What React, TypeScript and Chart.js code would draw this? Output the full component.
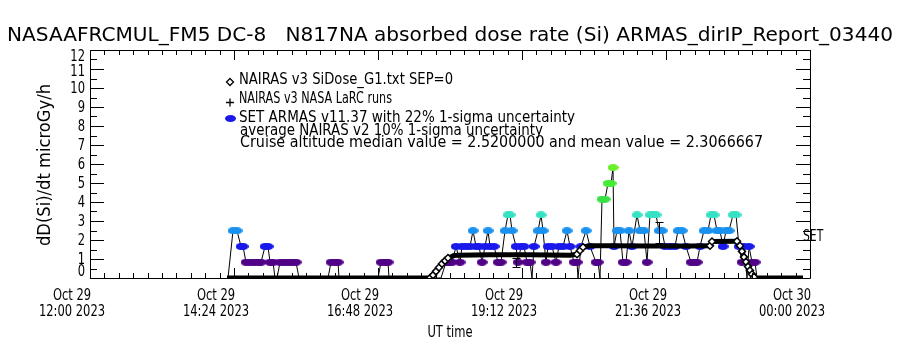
import { useEffect, useRef } from 'react';
import { Chart, registerables } from 'chart.js';
Chart.register(...registerables);

const titleText = 'NASAAFRCMUL_FM5 DC-8   N817NA absorbed dose rate (Si) ARMAS_dirIP_Report_03440';
const yAxisTitle = 'dD(Si)/dt microGy/h';
const xAxisTitle = 'UT time';
const xTickMinutes = [0, 144, 288, 432, 576, 720];
const xTickLabels = [
  ['Oct 29', '12:00 2023'],
  ['Oct 29', '14:24 2023'],
  ['Oct 29', '16:48 2023'],
  ['Oct 29', '19:12 2023'],
  ['Oct 29', '21:36 2023'],
  ['Oct 30', '00:00 2023'],
];
const yTickValues = [0, 1, 2, 3, 4, 5, 6, 7, 8, 9, 10, 11, 12];
const legendLines = [
  'NAIRAS v3 SiDose_G1.txt SEP=0',
  'NAIRAS v3 NASA LaRC runs',
  'SET ARMAS v11.37 with 22% 1-sigma uncertainty',
  'average NAIRAS v2 10% 1-sigma uncertainty',
];
const statsText = 'Cruise altitude median value = 2.5200000 and mean value = 2.3066667';
const setLabel = 'SET';

// minutes after 12:00 UT, Oct 29 2023
const nairasMinutes = [137, 160, 190, 220, 250, 280, 310, 340, 343, 346, 349, 352, 355, 358, 361, 364, 368, 400, 440, 480, 487, 490, 493, 500, 520, 560, 600, 620, 622, 647, 650, 652, 654, 656, 658, 660, 662, 664, 666, 690, 713];
const nairasDose = [0, 0, 0, 0, 0, 0, 0, 0, 0.15, 0.35, 0.55, 0.75, 0.9, 1.05, 1.12, 1.18, 1.2, 1.22, 1.22, 1.2, 1.25, 1.45, 1.62, 1.7, 1.7, 1.68, 1.68, 1.7, 1.92, 1.93, 1.7, 1.4, 1.1, 0.85, 0.6, 0.4, 0.2, 0.05, 0, 0, 0];

const armasMinutes = [138, 143, 147, 151, 153, 156, 160, 164, 168, 171, 175, 178, 180, 183, 185, 187, 190, 194, 198, 202, 206, 209, 238, 241, 245, 248, 249, 288, 291, 295, 298, 299, 351,
  356, 359, 362, 366, 370, 372, 376, 380, 383, 386, 389, 392, 395, 398, 400, 404, 408, 411, 415, 418, 420, 422, 426, 428, 431, 434, 437, 440, 442, 444, 448, 451, 453, 456, 458, 462, 466, 469, 473, 477, 480, 484, 487, 488, 491, 496, 500, 506, 508, 510,
  512, 515, 518, 521, 523, 524, 527, 530, 533, 536, 539, 542, 547, 550, 554, 557, 560, 563, 566, 569, 572, 575, 580, 585, 588, 592, 596, 601, 604, 607, 610, 614, 618, 621, 624, 627, 630, 633, 636, 639, 643, 646, 649, 652, 654, 657, 659, 662, 665, 667];
const armasDose = [0, 2.49, 2.49, 1.66, 1.66, 0.83, 0.83, 0.83, 0.83, 0.83, 1.66, 1.66, 0.83, 0.83, 0, 0, 0.83, 0.83, 0.83, 0.83, 0.83, 0, 0, 0.83, 0.83, 0.83, 0, 0, 0.83, 0.83, 0.83, 0, 0,
  0.83, 0.83, 0.83, 1.66, 0.83, 1.66, 1.66, 1.66, 2.49, 1.66, 1.66, 0.83, 1.66, 2.49, 1.66, 1.66, 0.83, 0.83, 2.49, 3.32, 3.32, 2.49, 1.66, 0.83, 1.66, 1.66, 0.83, 0.83, 0, 1.66, 2.49, 3.32, 2.49, 0.83, 1.66, 1.66, 0.83, 1.66, 1.66, 2.49, 1.66, 0.83, 0.83, 0, 1.66, 2.49, 1.66, 0.83, 0.83, 0,
  4.15, 4.15, 4.98, 4.98, 5.81, 1.66, 2.49, 2.49, 0.83, 0.83, 2.49, 1.66, 3.32, 2.49, 2.49, 0.83, 3.32, 3.32, 3.32, 2.49, 2.49, 1.66, 1.66, 1.66, 2.49, 2.49, 1.66, 0.83, 0.83, 0.83, 1.66, 2.49, 2.49, 3.32, 3.32, 2.49, 2.49, 1.66, 2.49, 2.49, 3.32, 3.32, 1.66, 0.83, 1.66, 0, 1.66, 0.83, 0.83, 0];

const errMinutes = [426, 569];
const errLow = [0.58, 1.84];
const errHigh = [1.05, 2.95];

const FONT = '"Liberation Sans Narrow", "DejaVu Sans Condensed", "Liberation Sans", sans-serif';

function levelColor(v: number): string {
  if (v < 1.2) return 'rgb(80,0,135)';
  if (v < 2.0) return 'rgb(25,25,235)';
  if (v < 2.9) return 'rgb(25,145,240)';
  if (v < 3.7) return 'rgb(55,225,195)';
  if (v < 4.5) return 'rgb(55,225,70)';
  if (v < 5.4) return 'rgb(70,235,55)';
  return 'rgb(105,240,40)';
}

const markerCache: Record<string, HTMLCanvasElement> = {};
function marker(color: string): HTMLCanvasElement {
  if (markerCache[color]) return markerCache[color];
  const c = document.createElement('canvas');
  c.width = 11;
  c.height = 7;
  const g = c.getContext('2d')!;
  g.fillStyle = color;
  g.beginPath();
  g.ellipse(5.5, 3.5, 5.5, 3.5, 0, 0, Math.PI * 2);
  g.fill();
  markerCache[color] = c;
  return c;
}

function txt(ctx: CanvasRenderingContext2D, s: string, x: number, y: number, size: number, o: { width?: number; sx?: number; align?: string; rot?: number } = {}) {
  ctx.save();
  ctx.font = `${size}px ${FONT}`;
  ctx.fillStyle = '#000';
  ctx.textBaseline = 'middle';
  ctx.textAlign = 'left';
  ctx.translate(x, y);
  if (o.rot) ctx.rotate(o.rot);
  const w = ctx.measureText(s).width;
  const sx = o.width ? o.width / w : o.sx ?? 0.75;
  ctx.scale(sx, 1);
  let dx = 0;
  if (o.align === 'center') dx = -w / 2;
  else if (o.align === 'right') dx = -w;
  ctx.fillText(s, dx, 0);
  ctx.restore();
}

const decorPlugin = {
  id: 'decor',
  afterDatasetsDraw(chart: any) {
    const ctx: CanvasRenderingContext2D = chart.ctx;
    const xs = chart.scales.x;
    const ys = chart.scales.y;
    const a = chart.chartArea;
    ctx.save();
    ctx.strokeStyle = '#000';
    ctx.lineWidth = 1;
    // error bars
    for (let i = 0; i < errMinutes.length; i++) {
      const x = Math.round(xs.getPixelForValue(errMinutes[i])) + 0.5;
      const y1 = Math.round(ys.getPixelForValue(errLow[i])) + 0.5;
      const y2 = Math.round(ys.getPixelForValue(errHigh[i])) + 0.5;
      ctx.beginPath();
      ctx.moveTo(x, y1); ctx.lineTo(x, y2);
      ctx.moveTo(x - 4, y1); ctx.lineTo(x + 4, y1);
      ctx.moveTo(x - 4, y2); ctx.lineTo(x + 4, y2);
      ctx.stroke();
    }
    // frame
    ctx.beginPath();
    ctx.rect(Math.round(a.left) + 0.5, Math.round(a.top) + 0.5, Math.round(a.right - a.left), Math.round(a.bottom - a.top));
    ctx.stroke();
    // y ticks
    ctx.beginPath();
    for (let v = 0; v <= 12.001; v += 0.5) {
      const y = Math.round(ys.getPixelForValue(v)) + 0.5;
      const len = Math.abs(v - Math.round(v)) < 0.01 ? 14 : 7;
      ctx.moveTo(a.left, y); ctx.lineTo(a.left + len, y);
      ctx.moveTo(a.right, y); ctx.lineTo(a.right - len, y);
    }
    // x ticks
    for (let k = 0; k <= 50; k++) {
      const m = k * 14.4;
      const x = Math.round(xs.getPixelForValue(m)) + 0.5;
      const len = k % 10 === 0 ? 10 : 5;
      ctx.moveTo(x, a.bottom); ctx.lineTo(x, a.bottom - len);
      ctx.moveTo(x, a.top); ctx.lineTo(x, a.top + len);
    }
    ctx.stroke();
    ctx.restore();

    // tick labels from library scales
    ys.ticks.forEach((t: any, i: number) => {
      const y = ys.getPixelForTick(i);
      const v = Number(t.value);
      const off = v === 0 ? -6 : v === 12 ? 7 : v === 11 ? 3 : 1;
      txt(ctx, String(t.label), a.left - 5, y + off, 16, { sx: 0.8, align: 'right' });
    });
    xs.ticks.forEach((t: any, i: number) => {
      const x = xs.getPixelForTick(i);
      const lab = t.label as string[];
      txt(ctx, lab[0], x - 18, a.bottom + 18, 16, { sx: 0.8, align: 'center' });
      txt(ctx, lab[1], x - 18, a.bottom + 34, 16, { sx: 0.8, align: 'center' });
    });
    txt(ctx, xAxisTitle, 450, 333, 16, { sx: 0.8, align: 'center' });
    txt(ctx, yAxisTitle, 46, 165, 17, { width: 162, align: 'center', rot: -Math.PI / 2 });
    txt(ctx, titleText, 7, 36, 19, { width: 886 });

    // legend
    ctx.save();
    ctx.strokeStyle = '#000';
    ctx.lineWidth = 1.3;
    ctx.beginPath();
    ctx.moveTo(230, 78.5); ctx.lineTo(233.5, 82); ctx.lineTo(230, 85.5); ctx.lineTo(226.5, 82); ctx.closePath();
    ctx.stroke();
    ctx.beginPath();
    ctx.moveTo(226, 102.5); ctx.lineTo(234, 102.5);
    ctx.moveTo(230, 98.5); ctx.lineTo(230, 106.5);
    ctx.stroke();
    ctx.drawImage(marker(levelColor(1.7)), 225, 115);
    ctx.restore();
    txt(ctx, legendLines[0], 239, 80, 15, { width: 214 });
    txt(ctx, legendLines[1], 239, 99, 15, { width: 153 });
    txt(ctx, legendLines[2], 239, 118, 15, { width: 336 });
    txt(ctx, legendLines[3], 240, 131, 15, { width: 303 });
    txt(ctx, statsText, 240, 143, 15, { width: 523 });
    txt(ctx, setLabel, 803, 237, 15, { sx: 0.8 });
  },
};

function isRamp(i: number): boolean {
  const prev = i > 0 ? Math.abs(nairasDose[i] - nairasDose[i - 1]) / (nairasMinutes[i] - nairasMinutes[i - 1]) : 0;
  const next = i < nairasDose.length - 1 ? Math.abs(nairasDose[i + 1] - nairasDose[i]) / (nairasMinutes[i + 1] - nairasMinutes[i]) : 0;
  return prev > 0.03 || next > 0.03;
}

export default function App() {
  const ref = useRef<HTMLCanvasElement | null>(null);
  useEffect(() => {
    const canvas = ref.current!;
    const nairas = nairasMinutes.map((m, i) => ({ x: m, y: nairasDose[i] }));
    const armas = armasMinutes.map((m, i) => ({ x: m, y: armasDose[i] }));
    const chart = new Chart(canvas, {
      type: 'scatter',
      data: {
        datasets: [
          {
            label: legendLines[0],
            data: nairas,
            showLine: true,
            borderColor: '#000',
            borderWidth: 1,
            segment: {
              borderWidth: (c: any) => {
                const dy = Math.abs(c.p1.parsed.y - c.p0.parsed.y);
                const dx = Math.abs(c.p1.parsed.x - c.p0.parsed.x);
                return dy / dx > 0.03 ? 1.5 : 5;
              },
            },
            pointStyle: 'rectRot',
            pointRadius: (c: any) => (isRamp(c.dataIndex) ? 3.5 : 0),
            pointBorderColor: '#000',
            pointBorderWidth: 1.5,
            pointBackgroundColor: '#fff',
            order: 0,
          } as any,
          {
            label: legendLines[2],
            data: armas,
            showLine: true,
            borderColor: '#000',
            borderWidth: 1,
            pointStyle: (c: any) => marker(levelColor(armasDose[c.dataIndex] ?? 0)),
            pointRadius: (c: any) => ((armasDose[c.dataIndex] ?? 0) > 0 ? 4 : 0),
            order: 1,
          } as any,
        ],
      },
      options: {
        animation: false,
        responsive: false,
        devicePixelRatio: 1,
        layout: { padding: { top: 50, right: 90, left: 0, bottom: 0 } },
        plugins: { legend: { display: false }, tooltip: { enabled: false }, title: { display: false } },
        scales: {
          x: {
            type: 'linear',
            min: 0,
            max: 720,
            afterBuildTicks: (s: any) => { s.ticks = xTickMinutes.map((v) => ({ value: v })); },
            ticks: { display: false, callback: (v: any) => xTickLabels[xTickMinutes.indexOf(Number(v))] ?? '' },
            afterTickToLabelConversion: (s: any) => {
              s.ticks.forEach((t: any) => { t.label = xTickLabels[xTickMinutes.indexOf(t.value)]; });
            },
            grid: { display: false },
            border: { display: false },
            afterFit: (s: any) => { s.height = 72; },
          },
          y: {
            type: 'linear',
            min: 0,
            max: 12,
            afterBuildTicks: (s: any) => { s.ticks = yTickValues.map((v) => ({ value: v })); },
            ticks: { display: false, callback: (v: any) => String(v) },
            afterTickToLabelConversion: (s: any) => {
              s.ticks.forEach((t: any) => { t.label = String(t.value); });
            },
            grid: { display: false },
            border: { display: false },
            afterFit: (s: any) => { s.width = 90; },
          },
        },
      } as any,
      plugins: [decorPlugin],
    });
    return () => chart.destroy();
  }, []);
  return (
    <div style={{ position: 'fixed', left: 0, top: 0, width: 900, height: 350, background: '#fff' }}>
      <canvas ref={ref} width={900} height={350} style={{ display: 'block', width: 900, height: 350 }} />
    </div>
  );
}
